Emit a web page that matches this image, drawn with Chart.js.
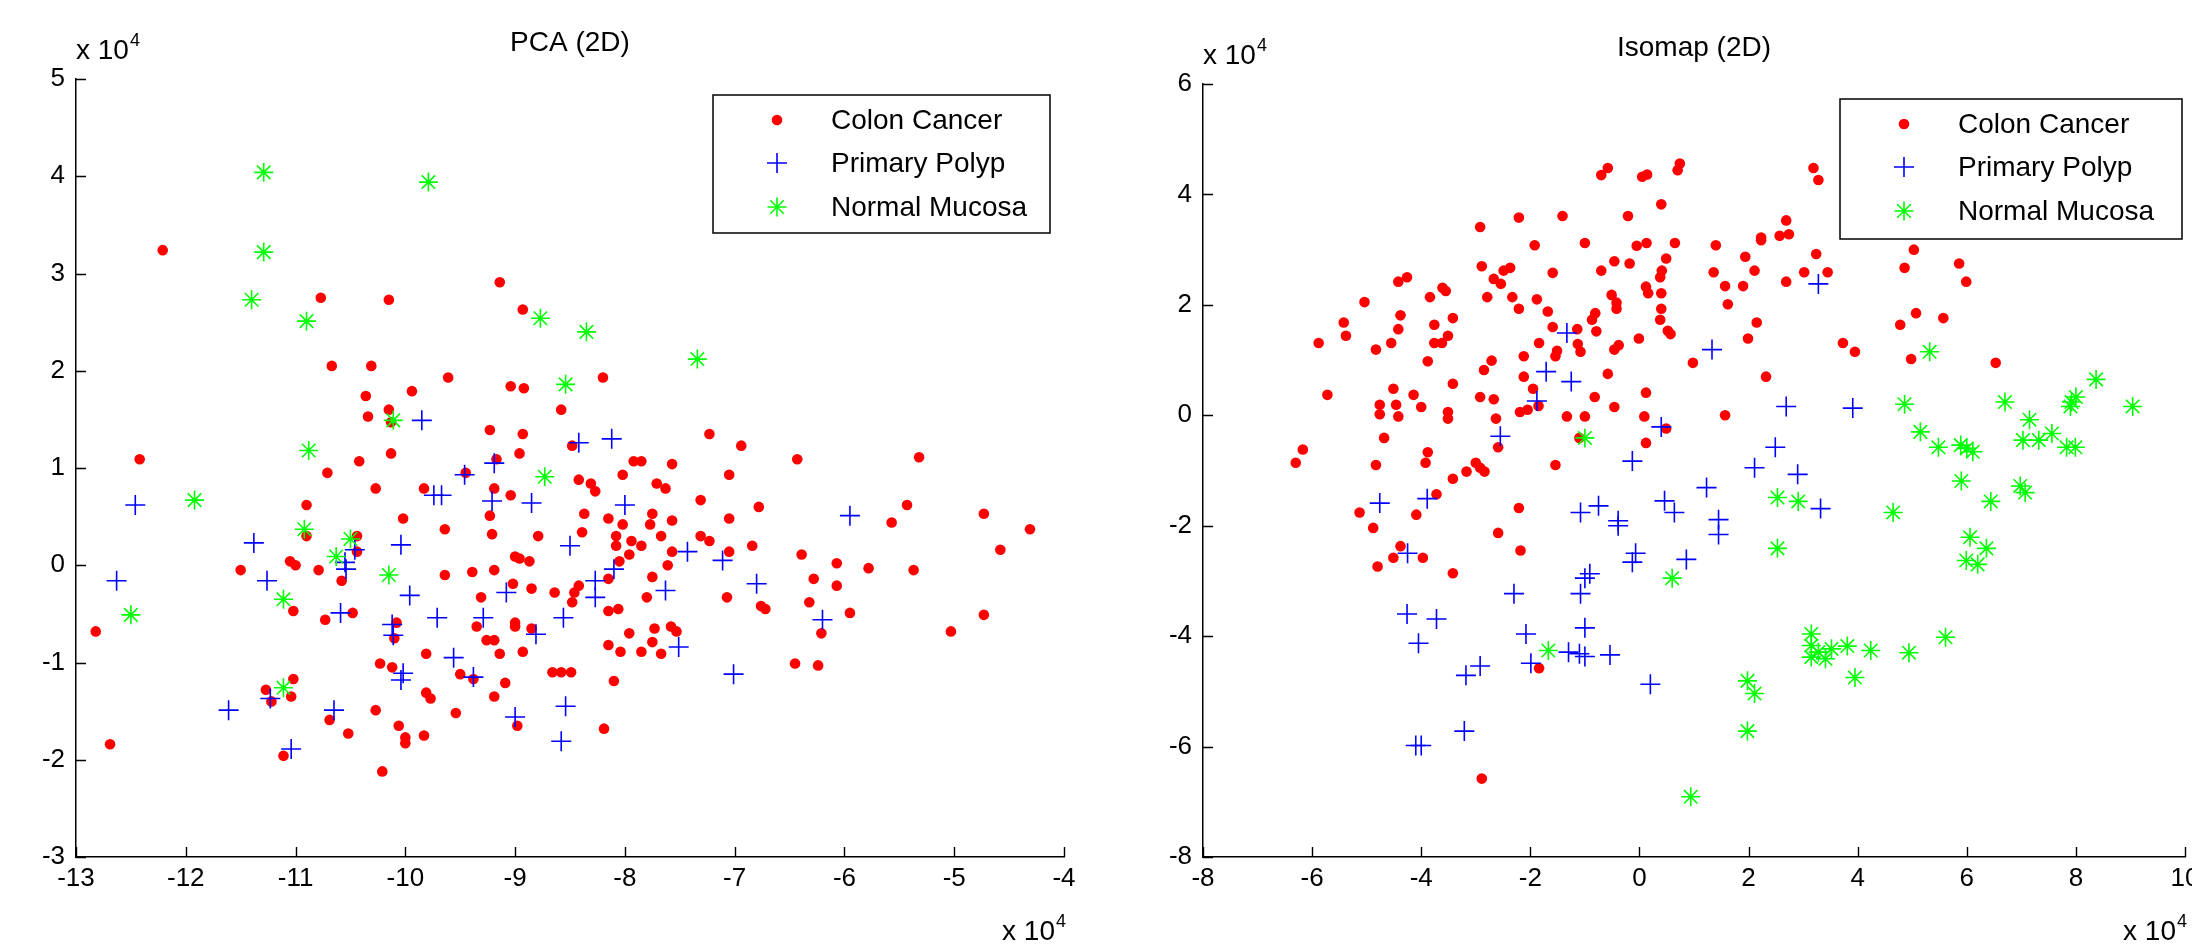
<!DOCTYPE html>
<html>
<head>
<meta charset="utf-8">
<title>PCA vs Isomap</title>
<script src="https://cdn.jsdelivr.net/npm/chart.js@4.4.0/dist/chart.umd.min.js"></script>
<style>
  html, body { margin: 0; padding: 0; background: #fff; overflow: hidden; }
  #wrap { position: relative; width: 2192px; height: 948px; overflow: hidden; background: #fff; }
  #pca { position: absolute; left: 0; top: 0; }
  #iso { position: absolute; left: 1130px; top: 0; }
</style>
</head>
<body>
<div id="wrap">
  <canvas id="pca" width="1130" height="948"></canvas>
  <canvas id="iso" width="1110" height="948"></canvas>
</div>
<script>
// values are in units of 10^4, as on the axes
var seriesNames = ['Colon Cancer', 'Primary Polyp', 'Normal Mucosa'];

var pcaCancer = [
  [-12.21,3.24],[-10.77,2.75],[-10.15,2.73],[-9.14,2.91],[-8.93,2.63],[-10.67,2.05],[-10.31,2.05],[-9.61,1.93],
  [-10.36,1.74],[-9.94,1.79],[-9.04,1.84],[-8.92,1.82],[-10.15,1.60],[-10.34,1.53],[-10.13,1.47],[-9.23,1.39],
  [-8.93,1.35],[-10.13,1.15],[-8.96,1.15],[-8.58,1.60],[-8.20,1.93],[-7.23,1.35],[-6.94,1.23],[-8.48,1.23],
  [-12.42,1.09],[-9.17,1.09],[-10.42,1.07],[-10.71,0.95],[-10.27,0.79],[-9.83,0.79],[-9.45,0.95],[-9.19,0.79],
  [-9.04,0.72],[-10.90,0.62],[-10.02,0.48],[-9.23,0.51],[-9.64,0.37],[-9.21,0.32],[-8.79,0.30],[-10.90,0.30],
  [-10.44,0.30],[-10.44,0.14],[-11.05,0.04],[-11.00,0.00],[-11.50,-0.05],[-10.79,-0.05],[-9.00,0.09],[-8.96,0.07],
  [-8.87,0.04],[-9.64,-0.10],[-9.39,-0.07],[-9.19,-0.05],[-10.58,-0.16],[-9.02,-0.19],[-8.85,-0.24],[-9.31,-0.33],
  [-11.02,-0.47],[-10.48,-0.49],[-10.73,-0.56],[-10.08,-0.59],[-9.35,-0.63],[-9.00,-0.59],[-9.00,-0.63],[-8.85,-0.65],
  [-12.82,-0.68],[-10.10,-0.75],[-9.26,-0.77],[-9.19,-0.77],[-9.81,-0.91],[-9.14,-0.91],[-8.93,-0.89],[-10.23,-1.01],
  [-10.12,-1.05],[-9.50,-1.12],[-9.38,-1.17],[-9.09,-1.21],[-11.02,-1.17],[-11.27,-1.28],[-11.22,-1.40],[-11.04,-1.35],
  [-9.81,-1.31],[-9.77,-1.37],[-9.19,-1.35],[-10.27,-1.49],[-9.54,-1.52],[-10.69,-1.59],[-10.06,-1.65],[-8.98,-1.65],
  [-10.52,-1.73],[-9.83,-1.75],[-10.00,-1.77],[-10.00,-1.83],[-12.69,-1.84],[-11.11,-1.96],[-10.21,-2.12],
  [-6.43,1.09],[-5.32,1.11],[-7.92,1.07],[-7.85,1.07],[-7.57,1.04],[-8.02,0.93],[-7.05,0.93],[-8.42,0.88],
  [-8.31,0.84],[-8.27,0.76],[-7.71,0.84],[-7.63,0.79],[-7.31,0.67],[-6.78,0.60],[-5.43,0.62],[-4.73,0.53],
  [-8.37,0.53],[-8.15,0.48],[-7.75,0.53],[-7.57,0.46],[-7.05,0.48],[-5.57,0.44],[-4.31,0.37],[-8.39,0.34],
  [-8.02,0.42],[-7.77,0.42],[-8.08,0.30],[-8.08,0.20],[-7.94,0.25],[-7.85,0.20],[-7.67,0.30],[-7.31,0.30],
  [-7.23,0.25],[-4.58,0.16],[-6.84,0.20],[-7.05,0.14],[-7.57,0.14],[-7.96,0.11],[-8.05,0.04],[-7.61,0.00],
  [-6.39,0.11],[-6.07,0.02],[-5.78,-0.03],[-5.37,-0.05],[-8.64,-0.28],[-8.42,-0.21],[-8.46,-0.28],[-8.48,-0.38],
  [-8.15,-0.14],[-7.75,-0.12],[-7.80,-0.33],[-7.07,-0.33],[-6.28,-0.14],[-6.07,-0.21],[-6.32,-0.38],[-6.76,-0.42],
  [-6.72,-0.45],[-5.95,-0.49],[-4.73,-0.51],[-8.15,-0.47],[-8.06,-0.45],[-7.96,-0.70],[-7.73,-0.65],[-7.58,-0.63],
  [-7.53,-0.68],[-6.21,-0.70],[-5.03,-0.68],[-8.15,-0.82],[-8.04,-0.89],[-7.85,-0.89],[-7.75,-0.79],[-7.67,-0.91],
  [-6.45,-1.01],[-6.24,-1.03],[-8.66,-1.10],[-8.58,-1.10],[-8.49,-1.10],[-8.10,-1.19],[-8.19,-1.68]
];
var pcaPolyp = [
  [-9.85,1.49],[-8.42,1.26],[-8.12,1.30],[-9.19,1.05],[-9.46,0.93],[-9.74,0.72],[-9.67,0.72],[-9.21,0.66],
  [-8.85,0.64],[-12.46,0.62],[-11.38,0.23],[-10.04,0.21],[-10.46,0.16],[-10.55,0.03],[-10.54,-0.04],[-12.63,-0.16],
  [-11.26,-0.16],[-9.96,-0.31],[-9.08,-0.28],[-10.59,-0.49],[-9.71,-0.54],[-9.29,-0.54],[-10.12,-0.61],[-10.11,-0.72],
  [-8.81,-0.71],[-9.56,-0.95],[-10.02,-1.11],[-10.04,-1.18],[-9.38,-1.15],[-11.23,-1.37],[-11.61,-1.49],[-10.65,-1.49],
  [-9.00,-1.56],[-11.04,-1.89],[-8.00,0.62],[-8.50,0.20],[-7.43,0.14],[-7.11,0.05],[-5.95,0.51],[-8.10,-0.04],
  [-8.27,-0.16],[-8.27,-0.33],[-7.63,-0.26],[-6.80,-0.19],[-8.56,-0.54],[-6.20,-0.56],[-7.51,-0.84],[-7.01,-1.12],
  [-8.54,-1.45],[-8.58,-1.81]
];
var pcaMucosa = [
  [-11.29,4.04],[-9.79,3.94],[-11.29,3.22],[-11.40,2.73],[-10.90,2.51],[-8.77,2.54],[-8.35,2.40],[-7.34,2.12],
  [-8.54,1.86],[-10.11,1.49],[-10.88,1.18],[-8.73,0.91],[-11.92,0.67],[-10.92,0.37],[-10.50,0.27],[-10.63,0.09],
  [-10.15,-0.10],[-11.11,-0.35],[-12.50,-0.51],[-11.11,-1.26]
];

var isoCancer = [
  [-0.70,4.35],[-0.58,4.48],[0.05,4.32],[0.14,4.36],[-0.21,3.61],[-1.41,3.61],[-2.21,3.58],[-2.92,3.41],
  [-1.92,3.08],[-1.00,3.12],[-0.05,3.07],[0.13,3.12],[-2.89,2.70],[-2.49,2.62],[-2.37,2.67],[-1.59,2.58],
  [-0.70,2.62],[-0.46,2.79],[-0.18,2.75],[0.41,2.62],[0.38,2.50],[-4.42,2.42],[-4.26,2.50],[-2.67,2.47],
  [-2.54,2.38],[-3.61,2.31],[-3.55,2.25],[0.12,2.33],[0.16,2.21],[-0.51,2.18],[-3.84,2.14],[-2.79,2.14],
  [-2.33,2.14],[-1.88,2.10],[-5.04,2.05],[-0.42,2.04],[-0.42,1.93],[-2.21,1.93],[-1.68,1.88],[-0.81,1.85],
  [-0.87,1.73],[0.38,1.73],[-4.38,1.81],[-3.42,1.76],[-5.42,1.68],[-3.76,1.64],[-4.42,1.56],[-1.59,1.60],
  [-1.14,1.56],[-0.79,1.52],[-5.38,1.44],[-3.51,1.44],[-0.01,1.39],[-5.88,1.31],[-4.55,1.31],[-3.76,1.31],
  [-3.62,1.31],[-1.84,1.31],[-1.13,1.29],[-0.38,1.27],[-0.46,1.19],[-4.83,1.19],[-1.51,1.17],[-1.08,1.15],
  [-1.54,1.07],[-2.12,1.07],[-2.71,0.99],[-3.88,0.98],[-2.85,0.82],[-0.58,0.75],[-2.12,0.70],[-3.42,0.57],
  [-1.95,0.48],[-4.51,0.48],[0.12,0.41],[-5.72,0.37],[-4.14,0.37],[-2.92,0.33],[-2.67,0.29],[-0.82,0.33],
  [-4.76,0.19],[-4.46,0.19],[-4.00,0.15],[-1.85,0.17],[-0.46,0.15],[-2.19,0.06],[-2.05,0.10],[-3.51,0.06],
  [-4.76,0.02],[-4.42,-0.02],[-3.51,-0.06],[-2.63,-0.06],[-1.33,-0.02],[-1.00,-0.02],[0.09,-0.02],[-4.68,-0.41],
  [-1.10,-0.41],[-2.59,-0.58],[0.12,-0.50],[-6.17,-0.62],[-3.88,-0.67],
  [0.74,4.56],[0.70,4.44],[3.19,4.48],[3.28,4.26],[0.40,3.82],[2.69,3.53],[2.57,3.25],[2.74,3.28],
  [2.23,3.22],[2.23,3.17],[0.65,3.12],[1.40,3.08],[5.03,3.00],[0.49,2.84],[1.94,2.87],[3.24,2.92],
  [4.86,2.67],[5.86,2.75],[1.36,2.59],[2.11,2.62],[3.02,2.59],[3.45,2.59],[2.69,2.42],[5.99,2.42],
  [1.57,2.34],[1.90,2.34],[0.40,2.21],[0.40,1.93],[1.62,2.01],[5.07,1.85],[5.57,1.76],[4.78,1.64],
  [2.15,1.68],[0.52,1.53],[0.57,1.47],[1.99,1.39],[3.73,1.31],[3.95,1.15],[4.98,1.02],[6.53,0.95],
  [0.98,0.95],[2.32,0.70],[1.57,0.00],[0.49,-0.24],
  [-6.30,-0.86],[-4.83,-0.90],[-3.92,-0.86],[-3.00,-0.86],[-2.92,-0.95],[-2.84,-1.02],[-3.17,-1.02],[-3.42,-1.15],
  [-1.54,-0.90],[-3.72,-1.43],[-5.13,-1.76],[-4.09,-1.80],[-2.21,-1.68],[-4.88,-2.04],[-2.59,-2.13],[-4.38,-2.37],
  [-4.51,-2.58],[-3.97,-2.58],[-2.18,-2.45],[-4.80,-2.74],[-3.42,-2.86],[-1.84,-4.58],[-2.89,-6.58]
];
var isoPolyp = [
  [-1.33,1.49],[-1.71,0.79],[-1.25,0.61],[-1.88,0.26],[-2.55,-0.38],[0.40,-0.21],[3.28,2.38],[1.33,1.19],
  [2.69,0.16],[3.91,0.13],[2.49,-0.58],[-0.13,-0.83],[-4.76,-1.59],[-3.89,-1.51],[-1.08,-1.76],[-0.75,-1.64],
  [-0.39,-1.91],[-0.39,-2.00],[-4.25,-2.50],[-0.07,-2.50],[-0.13,-2.66],[-0.91,-2.87],[-1.00,-2.95],[-1.08,-3.23],
  [-2.30,-3.23],[-4.26,-3.60],[-3.72,-3.69],[-4.05,-4.13],[-2.08,-3.96],[-1.00,-3.85],[-1.30,-4.29],[-1.10,-4.32],
  [-1.00,-4.37],[-0.54,-4.34],[-1.99,-4.49],[-2.92,-4.54],[-3.18,-4.71],[0.20,-4.87],[-3.21,-5.72],[-4.10,-5.98],
  [-4.00,-5.98],[2.11,-0.95],[2.90,-1.07],[1.23,-1.31],[0.46,-1.55],[0.64,-1.76],[1.45,-1.89],[1.45,-2.16],
  [3.32,-1.69],[0.86,-2.61]
];
var isoMucosa = [
  [-1.00,-0.41],[5.32,1.15],[4.86,0.20],[6.70,0.24],[8.37,0.65],[8.00,0.33],[7.92,0.24],[7.90,0.16],
  [9.04,0.16],[7.15,-0.08],[5.15,-0.30],[7.03,-0.45],[7.32,-0.45],[7.56,-0.33],[7.83,-0.58],[7.99,-0.58],
  [5.48,-0.58],[5.89,-0.54],[6.11,-0.66],[6.00,-0.60],[-1.67,-4.26],[0.60,-2.95],[2.53,-1.49],[2.91,-1.56],
  [2.53,-2.41],[4.65,-1.76],[5.90,-1.19],[6.44,-1.56],[6.98,-1.28],[7.07,-1.40],[6.06,-2.21],[6.36,-2.41],
  [5.99,-2.63],[6.20,-2.70],[3.15,-3.96],[3.15,-4.17],[3.15,-4.38],[3.41,-4.41],[3.52,-4.23],[3.28,-4.29],
  [3.81,-4.18],[4.24,-4.26],[4.94,-4.30],[5.61,-4.02],[3.95,-4.75],[1.98,-4.81],[2.11,-5.04],[1.98,-5.72],
  [0.94,-6.91]
];

// axis limits [min, max, step]
var pcaXAxis = [-13, -4, 1];
var pcaYAxis = [-3, 5, 1];
var isoXAxis = [-8, 10, 2];
var isoYAxis = [-8, 6, 2];

var FONT = "'Liberation Sans', Arial, Helvetica, sans-serif";

var markers = [
  { pointStyle: 'circle', radius: 5.3, fill: '#ff0000', stroke: '#ff0000', width: 0, order: 3 },
  { pointStyle: 'cross', radius: 10, fill: '#0000ff', stroke: '#0000ff', width: 1.6, order: 2 },
  { pointStyle: 'star', radius: 9.5, fill: '#00ff00', stroke: '#00ff00', width: 1.6, order: 1 }
];

function toPoints(arr) {
  return arr.map(function(p) { return { x: p[0], y: p[1] }; });
}

function makeDatasets(groups) {
  return groups.map(function(g, i) {
    var m = markers[i];
    return {
      label: seriesNames[i],
      data: toPoints(g),
      showLine: false,
      order: m.order,
      pointStyle: m.pointStyle,
      pointRadius: m.radius,
      pointBackgroundColor: m.fill,
      pointBorderColor: m.stroke,
      pointBorderWidth: m.width,
      backgroundColor: m.fill,
      borderColor: m.stroke
    };
  });
}

function axisOpts(range, isX, labelPad) {
  return {
    type: 'linear',
    min: range[0],
    max: range[1],
    ticks: {
      stepSize: range[2],
      color: '#000',
      font: { family: FONT, size: 26 },
      padding: labelPad,
      maxRotation: 0,
      autoSkip: false
    },
    grid: { display: false, drawTicks: false },
    border: { display: true, color: '#000', width: 1.5 },
    afterFit: function(s) {
      if (isX) s.height = 40; else s.width = s.chart.options.plugins.matlabLook.yAxisWidth;
    }
  };
}

function drawMarker(ctx, m, x, y) {
  ctx.fillStyle = m.fill;
  ctx.strokeStyle = m.stroke;
  ctx.lineWidth = m.width;
  if (Chart.helpers && Chart.helpers.drawPoint) {
    Chart.helpers.drawPoint(ctx, { pointStyle: m.pointStyle, radius: m.radius, borderWidth: m.width, rotation: 0 }, x, y);
    return;
  }
  ctx.beginPath();
  if (m.pointStyle === 'circle') {
    ctx.arc(x, y, m.radius, 0, Math.PI * 2);
    ctx.fill();
  } else {
    var r = m.radius;
    ctx.moveTo(x - r, y); ctx.lineTo(x + r, y);
    ctx.moveTo(x, y - r); ctx.lineTo(x, y + r);
    if (m.pointStyle === 'star') {
      var d = r * Math.SQRT1_2;
      ctx.moveTo(x - d, y - d); ctx.lineTo(x + d, y + d);
      ctx.moveTo(x - d, y + d); ctx.lineTo(x + d, y - d);
    }
    ctx.stroke();
  }
}

// "x 10^4" exponent label
function drawExp(ctx, x, baseline, align) {
  ctx.font = '28px ' + FONT;
  var w1 = ctx.measureText('x 10').width;
  ctx.font = '18px ' + FONT;
  var w2 = ctx.measureText('4').width;
  var start = align === 'right' ? x - w1 - w2 - 1 : x;
  ctx.textAlign = 'left';
  ctx.textBaseline = 'alphabetic';
  ctx.font = '28px ' + FONT;
  ctx.fillText('x 10', start, baseline);
  ctx.font = '18px ' + FONT;
  ctx.fillText('4', start + w1 + 1, baseline - 13);
}

var matlabLook = {
  id: 'matlabLook',
  afterDraw: function(chart, args, o) {
    var ctx = chart.ctx, a = chart.chartArea;
    var xs = chart.scales.x, ys = chart.scales.y;
    ctx.save();

    // inward tick marks
    ctx.strokeStyle = '#000';
    ctx.lineWidth = 1.4;
    ctx.beginPath();
    xs.ticks.forEach(function(t) {
      var p = Math.round(xs.getPixelForValue(t.value)) + 0.5;
      ctx.moveTo(p, a.bottom); ctx.lineTo(p, a.bottom - 10);
    });
    ys.ticks.forEach(function(t) {
      var p = Math.round(ys.getPixelForValue(t.value)) + 0.5;
      ctx.moveTo(a.left, p); ctx.lineTo(a.left + 10, p);
    });
    ctx.stroke();

    // title
    ctx.fillStyle = '#000';
    ctx.font = '28px ' + FONT;
    ctx.textAlign = 'center';
    ctx.textBaseline = 'alphabetic';
    ctx.fillText(o.title, (a.left + a.right) / 2, a.top - 28);

    drawExp(ctx, a.left, a.top - 20, 'left');
    drawExp(ctx, a.right + 2, a.bottom + 83, 'right');

    // legend box
    var bx = a.right - o.legendGap - o.legendWidth;
    var by = a.top + o.legendTop;
    ctx.fillStyle = '#fff';
    ctx.fillRect(bx, by, o.legendWidth, o.legendHeight);
    ctx.strokeStyle = '#000';
    ctx.lineWidth = 1.5;
    ctx.strokeRect(bx, by, o.legendWidth, o.legendHeight);
    var rows = [25, 68, 112];
    chart.data.datasets.forEach(function(ds, i) {
      var ry = by + rows[i];
      drawMarker(ctx, markers[i], bx + 64, ry);
      ctx.fillStyle = '#000';
      ctx.font = '28px ' + FONT;
      ctx.textAlign = 'left';
      ctx.textBaseline = 'middle';
      ctx.fillText(ds.label, bx + 118, ry + 1);
    });
    ctx.restore();
  }
};

function makeChart(id, groups, xr, yr, pad, look) {
  return new Chart(document.getElementById(id), {
    type: 'scatter',
    data: { datasets: makeDatasets(groups) },
    options: {
      responsive: false,
      animation: false,
      events: [],
      layout: { padding: pad },
      scales: {
        x: axisOpts(xr, true, 6),
        y: axisOpts(yr, false, 11)
      },
      plugins: {
        legend: { display: false },
        title: { display: false },
        tooltip: { enabled: false },
        matlabLook: look
      }
    },
    plugins: [matlabLook]
  });
}

makeChart('pca', [pcaCancer, pcaPolyp, pcaMucosa], pcaXAxis, pcaYAxis,
  { left: 0, top: 79, right: 66, bottom: 51 },
  { title: 'PCA (2D)', yAxisWidth: 76, legendGap: 14, legendWidth: 337, legendTop: 16, legendHeight: 138 });

makeChart('iso', [isoCancer, isoPolyp, isoMucosa], isoXAxis, isoYAxis,
  { left: 0, top: 84, right: 55, bottom: 51 },
  { title: 'Isomap (2D)', yAxisWidth: 73, legendGap: 3, legendWidth: 342, legendTop: 15, legendHeight: 140 });
</script>
</body>
</html>
